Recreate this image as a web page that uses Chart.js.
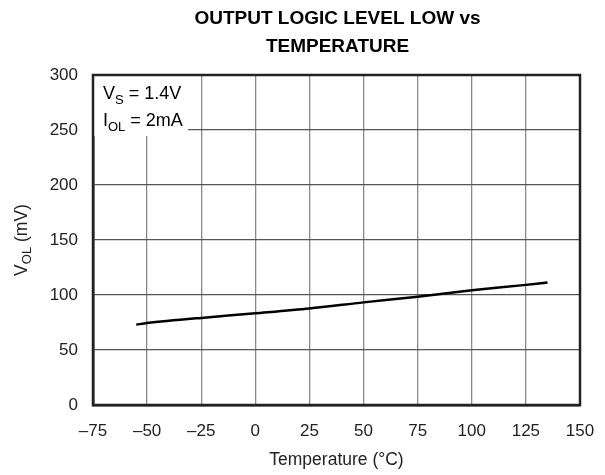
<!DOCTYPE html>
<html>
<head>
<meta charset="utf-8">
<script src="https://cdn.jsdelivr.net/npm/chart.js@4/dist/chart.umd.min.js"></script>
<style>
html, body { margin: 0; padding: 0; background: #fff; }
#wrap { width: 605px; height: 475px; }
</style>
</head>
<body>
<div id="wrap"><canvas id="volChart"></canvas></div>
<script>
// Change Data Here
var temps = [-55, -50, -25, 0, 25, 50, 75, 100, 125, 135];
var volValues = [73, 74.6, 79.2, 83.4, 87.8, 93.3, 98.5, 104.3, 109.2, 111.4];
var xTicks = [-75, -50, -25, 0, 25, 50, 75, 100, 125, 150];
var yTicks = [0, 50, 100, 150, 200, 250, 300];
var titleLines = ['OUTPUT LOGIC LEVEL LOW vs', 'TEMPERATURE'];

var FONT = '"Liberation Sans", Arial, Helvetica, sans-serif';

/**
 * Text with a subscript part
 */
function subText(ctx, x, y, main, sub, rest, size) {
    ctx.font = size + 'px ' + FONT;
    ctx.fillText(main, x, y);
    x += ctx.measureText(main).width;
    ctx.font = Math.round(size * 0.72) + 'px ' + FONT;
    ctx.fillText(sub, x, y + size * 0.25);
    x += ctx.measureText(sub).width;
    ctx.font = size + 'px ' + FONT;
    ctx.fillText(rest, x, y);
    return x + ctx.measureText(rest).width;
}

function subWidth(ctx, main, sub, rest, size) {
    ctx.font = size + 'px ' + FONT;
    var w = ctx.measureText(main).width + ctx.measureText(rest).width;
    ctx.font = Math.round(size * 0.72) + 'px ' + FONT;
    return w + ctx.measureText(sub).width;
}

const extraText = {
    id: 'extraText',
    afterDraw(chart) {
        const { ctx, chartArea } = chart;
        const { left, right, top, bottom } = chartArea;
        ctx.save();
        ctx.fillStyle = '#000';
        ctx.textBaseline = 'alphabetic';

        // title
        ctx.font = 'bold 19px ' + FONT;
        ctx.textAlign = 'center';
        var cx = (left + right) / 2 + 1;
        ctx.fillText(titleLines[0], cx, 24);
        ctx.fillText(titleLines[1], cx, 52);

        // condition box
        ctx.textAlign = 'left';
        ctx.fillStyle = '#fff';
        ctx.fillRect(left + 1, top + 1, 94, 60);
        ctx.fillStyle = '#000';
        subText(ctx, left + 10, top + 24, 'V', 'S', ' = 1.4V', 18);
        subText(ctx, left + 10, top + 51, 'I', 'OL', ' = 2mA', 18);

        // frame
        ctx.strokeStyle = '#222';
        ctx.lineWidth = 2.5;
        ctx.strokeRect(left, top, right - left, bottom - top);

        // y axis title
        ctx.translate(27, (top + bottom) / 2);
        ctx.rotate(-Math.PI / 2);
        ctx.fillStyle = '#222';
        var w = subWidth(ctx, 'V', 'OL', ' (mV)', 17.5);
        subText(ctx, -w / 2, 0, 'V', 'OL', ' (mV)', 17.5);
        ctx.restore();
    }
};

const volChart = new Chart(document.getElementById('volChart'), {
    type: 'scatter',
    data: {
        datasets: [{
            data: temps.map((t, i) => ({ x: t, y: volValues[i] })),
            showLine: true,
            borderColor: '#000',
            borderWidth: 2.5,
            tension: 0.3,
            pointRadius: 0,
            pointHoverRadius: 0,
        }]
    },
    options: {
        responsive: true,
        maintainAspectRatio: false,
        animation: false,
        layout: { padding: { left: 0, right: 25, top: 75, bottom: 0 } },
        plugins: {
            legend: { display: false },
            tooltip: { enabled: false },
        },
        scales: {
            x: {
                type: 'linear',
                min: xTicks[0],
                max: xTicks[xTicks.length - 1],
                afterBuildTicks: (scale) => { scale.ticks = xTicks.map(v => ({ value: v })); },
                afterFit: (scale) => {
                    scale.height = 70;
                    scale.paddingLeft = 0;
                    scale.paddingRight = 0;
                },
                ticks: {
                    color: '#222',
                    padding: 16,
                    maxRotation: 0,
                    font: { size: 17, family: FONT },
                    callback: (v) => (v < 0 ? '\u2013' + Math.abs(v) : String(v)),
                },
                grid: { color: '#8a8a8a', lineWidth: 1.3, drawTicks: false },
                border: { color: '#222', width: 2.5 },
                title: {
                    display: true,
                    text: 'Temperature (\u00b0C)',
                    color: '#222',
                    font: { size: 17.5, family: FONT },
                    padding: { top: 6 },
                },
            },
            y: {
                min: yTicks[0],
                max: yTicks[yTicks.length - 1],
                afterBuildTicks: (scale) => { scale.ticks = yTicks.map(v => ({ value: v })); },
                afterFit: (scale) => {
                    scale.width = 93;
                    scale.paddingTop = 0;
                    scale.paddingBottom = 0;
                },
                ticks: {
                    color: '#222',
                    padding: 15,
                    font: { size: 17, family: FONT },
                },
                grid: { color: '#555', lineWidth: 1.3, drawTicks: false },
                border: { color: '#222', width: 2.5 },
            }
        }
    },
    plugins: [extraText]
});
</script>
</body>
</html>
